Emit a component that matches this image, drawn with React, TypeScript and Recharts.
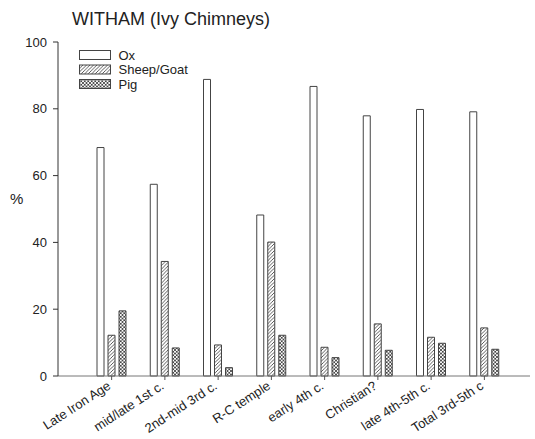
import React from 'react';
import { BarChart, Bar, XAxis, YAxis } from 'recharts';

const categories = [
  'Late Iron Age',
  'mid/late 1st c.',
  '2nd-mid 3rd c.',
  'R-C temple',
  'early 4th c.',
  'Christian?',
  'late 4th-5th c.',
  'Total 3rd-5th c',
];
const ox = [68.4, 57.4, 88.8, 48.2, 86.7, 77.9, 79.8, 79.1];
const sheepGoat = [12.2, 34.3, 9.3, 40.1, 8.6, 15.6, 11.6, 14.4];
const pig = [19.5, 8.4, 2.5, 12.2, 5.5, 7.7, 9.8, 8.0];
const yTicks = [0, 20, 40, 60, 80, 100];

const data = categories.map((name, i) => ({
  name,
  ox: ox[i],
  sheep: sheepGoat[i],
  pig: pig[i],
}));

const FONT = '"Liberation Sans", Arial, sans-serif';
const EDGE = '#444';

const XTick = (props: any) => {
  const { x, y, payload } = props;
  return (
    <g transform={`translate(${x},${y + 6})`}>
      <text
        x={0}
        y={0}
        textAnchor="end"
        transform="rotate(-33)"
        fontSize={13}
        fontFamily={FONT}
        fill="#222"
      >
        {payload.value}
      </text>
    </g>
  );
};

const legendItems = [
  { label: 'Ox', fill: '#fff' },
  { label: 'Sheep/Goat', fill: 'url(#hatch)' },
  { label: 'Pig', fill: 'url(#cross)' },
];

const LegendBox = () => (
  <svg width={180} height={70} style={{ position: 'absolute', left: 69, top: 40 }}>
    {legendItems.map((it, i) => (
      <g key={it.label} transform={`translate(10.5,${10.5 + i * 14.5})`}>
        <rect x={0} y={0} width={31} height={9} fill={it.fill} stroke={EDGE} strokeWidth={1} />
        <text x={39} y={9} fontSize={13} fontFamily={FONT} fill="#222">
          {it.label}
        </text>
      </g>
    ))}
  </svg>
);

export default function App() {
  return (
    <div style={{ position: 'absolute', left: 0, top: 0, width: 535, height: 439, background: '#fff' }}>
      <BarChart
        width={535}
        height={439}
        data={data}
        margin={{ top: 42, right: 5, left: 0, bottom: 0 }}
        barSize={7}
        barGap={4}
      >
        <defs>
          <pattern id="hatch" patternUnits="userSpaceOnUse" width={3.5} height={3.5}>
            <rect width={3.5} height={3.5} fill="#fff" />
            <path d="M-1,1 L1,-1 M0,3.5 L3.5,0 M2.5,4.5 L4.5,2.5" stroke="#333" strokeWidth={0.8} />
          </pattern>
          <pattern id="cross" patternUnits="userSpaceOnUse" width={3.5} height={3.5}>
            <rect width={3.5} height={3.5} fill="#fff" />
            <path
              d="M-1,1 L1,-1 M0,3.5 L3.5,0 M2.5,4.5 L4.5,2.5 M-1,2.5 L1,4.5 M0,0 L3.5,3.5 M2.5,-1 L4.5,1"
              stroke="#333"
              strokeWidth={0.8}
            />
          </pattern>
        </defs>
        <XAxis
          dataKey="name"
          type="category"
          interval={0}
          padding={{ left: 27, right: 19 }}
          height={63}
          tickSize={4}
          axisLine={{ stroke: '#777' }}
          tickLine={{ stroke: '#555' }}
          tick={<XTick />}
        />
        <YAxis
          domain={[0, 100]}
          ticks={yTicks}
          width={58}
          tickSize={5}
          tickMargin={6}
          axisLine={{ stroke: '#333' }}
          tickLine={{ stroke: '#333' }}
          tick={{ fontSize: 13, fontFamily: FONT, fill: '#222' }}
          label={{
            value: '%',
            position: 'insideLeft',
            offset: 10,
            dy: -10,
            style: { fontSize: 15, fontFamily: FONT, fill: '#222' },
          }}
        />
        <Bar dataKey="ox" name="Ox" fill="#fff" stroke={EDGE} strokeWidth={1} isAnimationActive={false} />
        <Bar dataKey="sheep" name="Sheep/Goat" fill="url(#hatch)" stroke={EDGE} strokeWidth={1} isAnimationActive={false} />
        <Bar dataKey="pig" name="Pig" fill="url(#cross)" stroke={EDGE} strokeWidth={1} isAnimationActive={false} />
      </BarChart>
      <div
        style={{
          position: 'absolute',
          left: 72,
          top: 10,
          fontSize: 18,
          lineHeight: '18px',
          fontFamily: FONT,
          color: '#222',
          whiteSpace: 'nowrap',
        }}
      >
        WITHAM (Ivy Chimneys)
      </div>
      <LegendBox />
    </div>
  );
}
